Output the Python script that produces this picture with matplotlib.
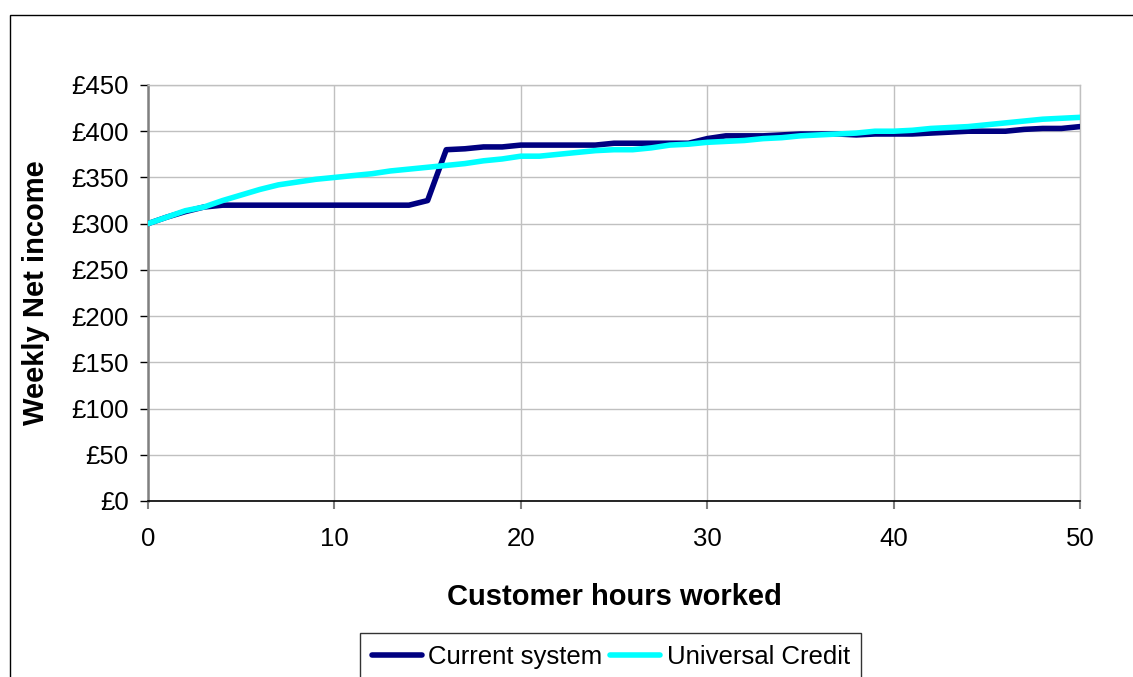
import matplotlib
matplotlib.use("Agg")
import matplotlib.pyplot as plt
from matplotlib.patches import Rectangle
from matplotlib.ticker import FuncFormatter, MultipleLocator

hours = list(range(0, 51))

current_system = [
    300, 307, 313, 318, 320, 320, 320, 320, 320, 320,
    320, 320, 320, 320, 320, 325, 380, 381, 383, 383,
    385, 385, 385, 385, 385, 387, 387, 387, 387, 387,
    392, 395, 395, 395, 396, 397, 397, 397, 396, 397,
    397, 397, 398, 399, 400, 400, 400, 402, 403, 403,
    405,
]

universal_credit = [
    300, 307, 314, 318, 325, 331, 337, 342, 345, 348,
    350, 352, 354, 357, 359, 361, 363, 365, 368, 370,
    373, 373, 375, 377, 379, 380, 380, 382, 385, 386,
    388, 389, 390, 392, 393, 395, 396, 397, 398, 400,
    400, 401, 403, 404, 405, 407, 409, 411, 413, 414,
    415,
]

series_names = ["Current system", "Universal Credit"]
y_label = "Weekly Net income"
x_label = "Customer hours worked"

plt.rcParams["font.family"] = ["Liberation Sans", "DejaVu Sans"]

W, H = 1133, 677
fig = plt.figure(figsize=(W / 100, H / 100), dpi=100)
fig.patch.set_facecolor("white")

# outer chart frame (runs off the right and bottom edge)
fig.add_artist(Rectangle((10 / W, -0.05), 1.2, 1 - 15 / H + 0.05,
                         transform=fig.transFigure, fill=False,
                         edgecolor="black", linewidth=1.0))

ax = fig.add_axes([148 / W, 1 - 501 / H, (1080 - 148) / W, (501 - 85) / H])
ax.plot(hours, current_system, color="#000080", linewidth=4.0,
        solid_joinstyle="round", solid_capstyle="round",
        label=series_names[0], zorder=3)
ax.plot(hours, universal_credit, color="#00FFFF", linewidth=4.0,
        solid_joinstyle="round", solid_capstyle="round",
        label=series_names[1], zorder=4)

ax.set_xlim(0, 50)
ax.set_ylim(0, 450)
ax.xaxis.set_major_locator(MultipleLocator(10))
ax.yaxis.set_major_locator(MultipleLocator(50))
ax.yaxis.set_major_formatter(FuncFormatter(lambda v, p: f"£{int(v)}"))

ax.grid(True, color="#C0C0C0", linewidth=1.0)
ax.set_axisbelow(True)
for side in ("top", "right"):
    ax.spines[side].set_color("#C0C0C0")
    ax.spines[side].set_linewidth(1.0)
ax.spines["left"].set_color("#808080")
ax.spines["left"].set_linewidth(1.8)
ax.spines["bottom"].set_color("black")
ax.spines["bottom"].set_linewidth(1.2)

ax.tick_params(axis="y", direction="out", length=6, width=1.0,
               color="black", labelsize=18.5, pad=8)
ax.tick_params(axis="x", direction="out", length=6, width=1.5,
               color="#808080", labelsize=18.5, pad=13)

ax.set_ylabel(y_label, fontsize=21, fontweight="bold", labelpad=15)
ax.set_xlabel(x_label, fontsize=21, fontweight="bold", labelpad=23)

leg = fig.legend(loc="upper left", bbox_to_anchor=(360 / W, 1 - 633 / H),
                 ncol=2, frameon=True, fancybox=False, fontsize=18.5,
                 handlelength=1.95, handletextpad=0.25, columnspacing=0.3,
                 borderpad=0.45, borderaxespad=0)
leg.get_frame().set_edgecolor("black")
leg.get_frame().set_linewidth(1.0)

fig.savefig("out.png", dpi=100, facecolor="white")
